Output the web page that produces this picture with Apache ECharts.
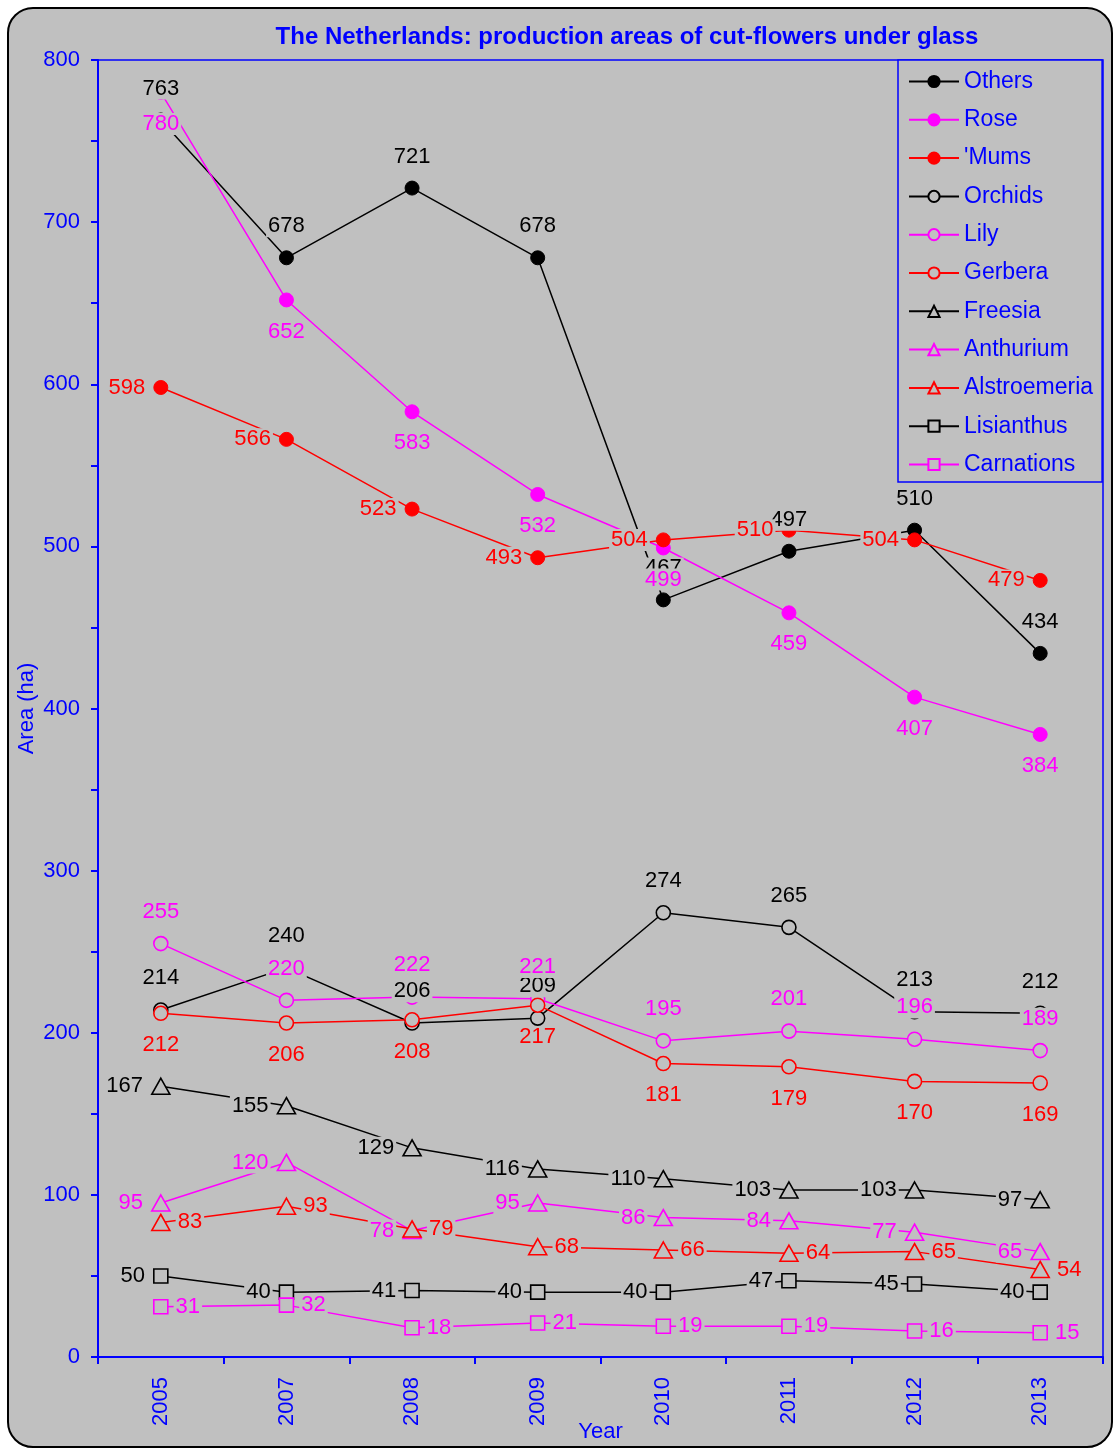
<!DOCTYPE html>
<html>
<head>
<meta charset="utf-8">
<script src="https://cdn.jsdelivr.net/npm/echarts@6/dist/echarts.min.js"></script>
<style>
  html, body { margin: 0; padding: 0; background: #fff; overflow: hidden; }
  #frame {
    position: absolute; left: 7px; top: 7px; width: 1106px; height: 1441px;
    box-sizing: border-box; border: 2px solid #000; border-radius: 26px;
    background: #C0C0C0;
  }
  #chart { position: absolute; left: 0; top: 0; width: 1113px; height: 1448px; }
</style>
</head>
<body>
<div id="frame"></div>
<div id="chart"></div>
<script>
// Production areas (ha) of cut flowers grown under glass in the Netherlands
const years = ['2005', '2007', '2008', '2009', '2010', '2011', '2012', '2013'];

const others       = [763, 678, 721, 678, 467, 497, 510, 434];
const rose         = [780, 652, 583, 532, 499, 459, 407, 384];
const mums         = [598, 566, 523, 493, 504, 510, 504, 479];
const orchids      = [214, 240, 206, 209, 274, 265, 213, 212];
const lily         = [255, 220, 222, 221, 195, 201, 196, 189];
const gerbera      = [212, 206, 208, 217, 181, 179, 170, 169];
const freesia      = [167, 155, 129, 116, 110, 103, 103, 97];
const anthurium    = [95, 120, 78, 95, 86, 84, 77, 65];
const alstroemeria = [83, 93, 79, 68, 66, 64, 65, 54];
const lisianthus   = [50, 40, 41, 40, 40, 47, 45, 40];
const carnations   = [31, 32, 18, 21, 19, 19, 16, 15];

const yTicks = [0, 100, 200, 300, 400, 500, 600, 700, 800];

const BLUE = '#0000FF';
const BG = '#C0C0C0';
const FONT = "'Liberation Sans', Arial, sans-serif";

// name, values, colour, marker, filled, label side
const defs = [
  ['Others', others, '#000000', 'circle', true, 'top'],
  ['Rose', rose, '#FF00FF', 'circle', true, 'bottom'],
  ["'Mums", mums, '#FF0000', 'circle', true, 'left'],
  ['Orchids', orchids, '#000000', 'circle', false, 'top'],
  ['Lily', lily, '#FF00FF', 'circle', false, 'top'],
  ['Gerbera', gerbera, '#FF0000', 'circle', false, 'bottom'],
  ['Freesia', freesia, '#000000', 'triangle', false, 'left'],
  ['Anthurium', anthurium, '#FF00FF', 'triangle', false, 'left'],
  ['Alstroemeria', alstroemeria, '#FF0000', 'triangle', false, 'right'],
  ['Lisianthus', lisianthus, '#000000', 'rect', false, 'left'],
  ['Carnations', carnations, '#FF00FF', 'rect', false, 'right']
];

const series = defs.map(([name, data, color, symbol, filled, pos]) => {
  const size = symbol === 'triangle' ? [18, 16] : 14;
  const dist = pos === 'top' || pos === 'bottom' ? 13 : (pos === 'left' ? 6 : 5);
  return {
    name, type: 'line', data,
    symbol, symbolSize: size, showAllSymbol: true,
    lineStyle: { color, width: 1.5 },
    itemStyle: filled
      ? { color, borderColor: color, borderWidth: 1 }
      : { color: BG, borderColor: color, borderWidth: 1.6 },
    label: {
      show: true, position: pos, distance: dist,
      color, fontSize: 22, fontFamily: FONT,
      backgroundColor: BG, padding: [0, 2]
    },
    emphasis: { disabled: true },
    animation: false
  };
});

const chart = echarts.init(document.getElementById('chart'), null, { renderer: 'canvas' });
chart.setOption({
  backgroundColor: 'transparent',
  animation: false,
  title: {
    text: 'The Netherlands: production areas of cut-flowers under glass',
    left: 622, top: 20, textAlign: 'center',
    textStyle: { color: BLUE, fontSize: 24, fontWeight: 'bold', fontFamily: FONT }
  },
  legend: {
    orient: 'vertical', left: 898, top: 60,
    padding: [10, 9, 6, 10], itemGap: 15.3,
    itemWidth: 50, itemHeight: 14,
    backgroundColor: BG, borderColor: BLUE, borderWidth: 1.5,
    textStyle: { color: BLUE, fontSize: 23, fontFamily: FONT },
    data: defs.map(d => d[0])
  },
  grid: {
    left: 98, right: 10, top: 60, bottom: 91,
    outerBoundsMode: 'none', containLabel: false,
    show: true, borderColor: BLUE, borderWidth: 1.5, backgroundColor: 'transparent'
  },
  xAxis: {
    type: 'category', data: years, boundaryGap: true,
    name: 'Year', nameLocation: 'middle', nameGap: 75, nameMoveOverlap: false,
    nameTextStyle: { color: BLUE, fontSize: 22, fontFamily: FONT, verticalAlign: 'middle' },
    axisLine: { lineStyle: { color: BLUE, width: 2 } },
    axisTick: { show: true, length: 7, lineStyle: { color: BLUE, width: 2 } },
    axisLabel: { rotate: 90, margin: 20, color: BLUE, fontSize: 22, fontFamily: FONT },
    splitLine: { show: false }
  },
  yAxis: {
    type: 'value', min: 0, max: 800, interval: 50,
    name: 'Area (ha)', nameLocation: 'middle', nameGap: 71, nameMoveOverlap: false,
    nameTextStyle: { color: BLUE, fontSize: 22, fontFamily: FONT, verticalAlign: 'middle' },
    axisLine: { show: true, lineStyle: { color: BLUE, width: 2 } },
    axisTick: { show: true, inside: false, length: 7, lineStyle: { color: BLUE, width: 2 } },
    axisLabel: {
      margin: 18, color: BLUE, fontSize: 22, fontFamily: FONT,
      formatter: v => (yTicks.indexOf(v) >= 0 ? String(v) : '')
    },
    splitLine: { show: false }
  },
  series
});
</script>
</body>
</html>
